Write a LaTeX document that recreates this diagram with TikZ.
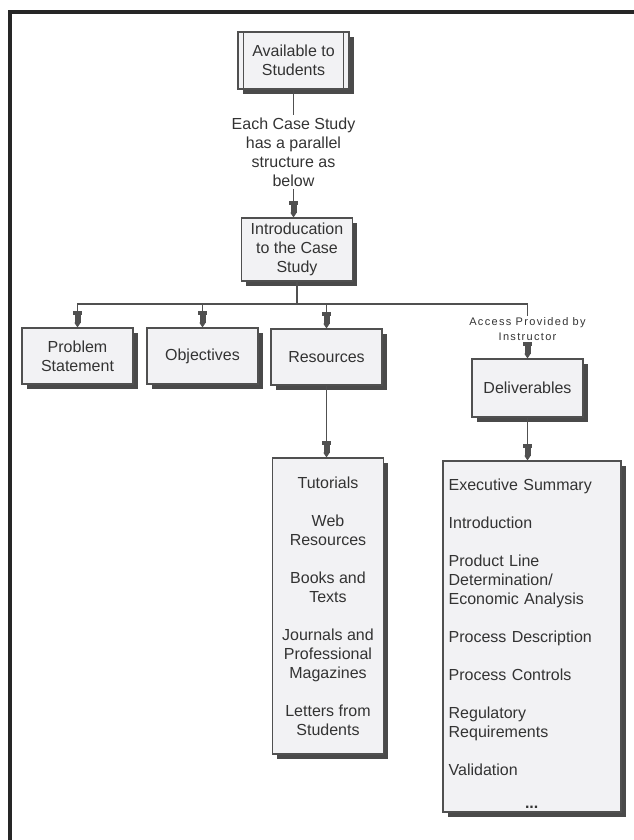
\documentclass[tikz,border=0pt]{standalone}
\usepackage{fontspec}
\setmainfont{Liberation Sans}
\newfontfamily\accessfont[LetterSpace=12]{Liberation Sans}
\usepackage{tikz}
\usetikzlibrary{arrows.meta,shadows}
\definecolor{boxfill}{HTML}{F2F2F4}
\definecolor{boxline}{HTML}{505050}
\definecolor{boxshadow}{HTML}{4A4A4A}
\definecolor{txt}{HTML}{333333}
\newcommand{\boxfont}{\fontsize{12pt}{14.25pt}\selectfont}
\tikzstyle{box}   = [draw=boxline, line width=0.9pt, fill=boxfill, text=txt, align=center, minimum width=83.25pt, inner sep=2pt, font=\boxfont, drop shadow={shadow xshift=3.5pt, shadow yshift=-3.5pt, fill=boxshadow, opacity=1}]
\tikzstyle{conn}  = [draw=boxline, line width=0.8pt]
\tikzstyle{arrow} = [conn, -{Rectangle[length=3.5pt,width=7pt,sep=0pt] Rectangle[length=5.5pt,width=4.5pt,sep=0pt] Triangle[length=3.5pt,width=4.5pt,sep=0pt]}]

\begin{document}
\begin{tikzpicture}[x=0.75pt, y=-0.75pt]
	\useasboundingbox (0,0) rectangle (634,840);
	\draw[line width=3pt, black!85] (9.5,840) -- (9.5,12) -- (634,12);

	\node[box, minimum height=42.75pt] (avail) at (293.5,60.5) {Available to\\Students};
	\draw[boxline, line width=0.9pt] ([xshift=4.5pt]avail.north west) -- ([xshift=4.5pt]avail.south west);
	\draw[boxline, line width=0.9pt] ([xshift=-4.5pt]avail.north east) -- ([xshift=-4.5pt]avail.south east);

	\node[text=txt, align=center, font=\boxfont, inner sep=2pt] (note) at (293.5,152) {Each Case Study\\has a parallel\\structure as\\below};
	\node[box, minimum height=47.25pt] (intro) at (297,249.5) {Introducation\\to the Case\\Study};

	\node[box, minimum height=42pt] (prob) at (77.5,356) {Problem\\Statement};
	\node[box, minimum height=42pt] (obj) at (202.5,356) {Objectives};
	\node[box, minimum height=42pt] (res) at (326.5,357) {Resources};
	\node[text=txt, align=center, font=\accessfont\fontsize{8.25pt}{11.25pt}\selectfont, inner sep=1pt] (access) at (527.5,329.5) {Access Provided by\\Instructor};
	\node[box, minimum height=43.5pt] (deliv) at (527.5,388) {Deliverables};

	\node[box, minimum height=222pt] (rlist) at (328,606) {Tutorials\\[14.25pt]Web\\Resources\\[14.25pt]Books and\\Texts\\[14.25pt]Journals and\\Professional\\Magazines\\[14.25pt]Letters from\\Students};
	\node[box, minimum width=133.5pt, minimum height=263.25pt] (dlist) at (532,636.5) {};
	\node[anchor=north west, text=txt, align=left, text width=124.5pt, font=\boxfont, inner sep=0pt] (dtext) at ([xshift=4.5pt,yshift=-13.5pt]dlist.north west) {Executive Summary\\[14.25pt]Introduction\\[14.25pt]Product Line\\Determination/\\Economic Analysis\\[14.25pt]Process Description\\[14.25pt]Process Controls\\[14.25pt]Regulatory\\Requirements\\[14.25pt]Validation\\[11pt]\hspace*{\fill}\textbf{...}\hspace*{\fill}};

	\coordinate (fork) at (297,304);
	\draw[conn] (avail) -- (note);
	\draw[arrow] (note.south) -- (note.south |- intro.north);
	\draw[conn] (intro.south) -- (fork);
	\draw[arrow] (fork) -| (prob.north);
	\draw[arrow] (fork) -| (obj.north);
	\draw[arrow] (fork) -| (res.north);
	\draw[conn] (fork) -| (access.north);
	\draw[arrow] (access.south) -- (deliv.north);
	\draw[arrow] (res.south) -- (res.south |- rlist.north);
	\draw[arrow] (deliv.south) -- (deliv.south |- dlist.north);
\end{tikzpicture}
\end{document}
